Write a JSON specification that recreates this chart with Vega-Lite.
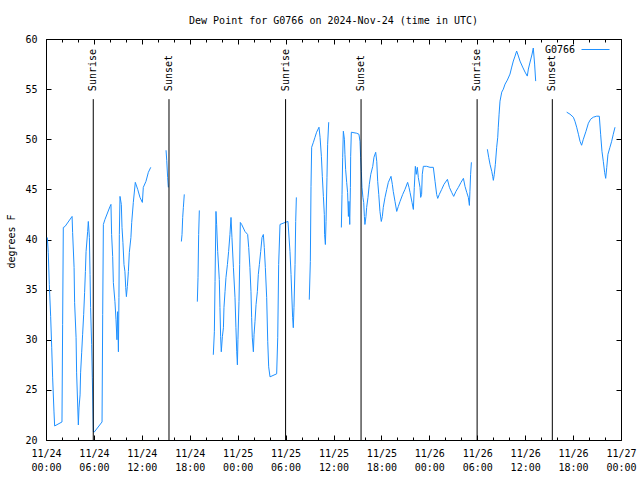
{
"$schema":"https://vega.github.io/schema/vega-lite/v6.json",
"width":575,"height":401,
"autosize":{"type":"none"},
"padding":{"left":46,"top":39,"right":19,"bottom":40},
"title":{"text":"Dew Point for G0766 on 2024-Nov-24 (time in UTC)","anchor":"middle","frame":"group","font":"DejaVu Sans Mono","fontSize":10,"fontWeight":"normal","baseline":"alphabetic","offset":0,"color":"black"},
"datasets":{
"events":[
{"t":"2024-11-24T05:55:00Z","e":"Sunrise"},
{"t":"2024-11-24T15:24:00Z","e":"Sunset"},
{"t":"2024-11-25T06:00:00Z","e":"Sunrise"},
{"t":"2024-11-25T15:27:00Z","e":"Sunset"},
{"t":"2024-11-26T05:59:00Z","e":"Sunrise"},
{"t":"2024-11-26T15:24:00Z","e":"Sunset"}
],
"dew":[
{"t":"2024-11-24T00:10:00Z","v":40.2,"s":1},
{"t":"2024-11-24T00:17:00Z","v":38.7,"s":1},
{"t":"2024-11-24T00:25:00Z","v":35.5,"s":1},
{"t":"2024-11-24T00:35:00Z","v":32.3,"s":1},
{"t":"2024-11-24T00:43:00Z","v":29.2,"s":1},
{"t":"2024-11-24T00:50:00Z","v":26.2,"s":1},
{"t":"2024-11-24T01:00:00Z","v":22.8,"s":1},
{"t":"2024-11-24T01:05:00Z","v":21.4,"s":1},
{"t":"2024-11-24T02:00:00Z","v":21.8,"s":1},
{"t":"2024-11-24T02:05:00Z","v":31.5,"s":1},
{"t":"2024-11-24T02:10:00Z","v":41.2,"s":1},
{"t":"2024-11-24T02:23:00Z","v":41.3,"s":1},
{"t":"2024-11-24T03:16:00Z","v":42.3,"s":1},
{"t":"2024-11-24T03:20:00Z","v":40.7,"s":1},
{"t":"2024-11-24T03:31:00Z","v":37.2,"s":1},
{"t":"2024-11-24T03:35:00Z","v":33.7,"s":1},
{"t":"2024-11-24T03:46:00Z","v":30.2,"s":1},
{"t":"2024-11-24T03:50:00Z","v":26.7,"s":1},
{"t":"2024-11-24T04:03:00Z","v":21.5,"s":1},
{"t":"2024-11-24T04:08:00Z","v":23.2,"s":1},
{"t":"2024-11-24T04:16:00Z","v":24.5,"s":1},
{"t":"2024-11-24T04:20:00Z","v":26.7,"s":1},
{"t":"2024-11-24T04:28:00Z","v":28.7,"s":1},
{"t":"2024-11-24T04:35:00Z","v":30.5,"s":1},
{"t":"2024-11-24T04:43:00Z","v":32.5,"s":1},
{"t":"2024-11-24T04:50:00Z","v":34.7,"s":1},
{"t":"2024-11-24T04:56:00Z","v":36.8,"s":1},
{"t":"2024-11-24T05:01:00Z","v":38.8,"s":1},
{"t":"2024-11-24T05:13:00Z","v":40.8,"s":1},
{"t":"2024-11-24T05:18:00Z","v":41.8,"s":1},
{"t":"2024-11-24T05:26:00Z","v":40.2,"s":1},
{"t":"2024-11-24T05:31:00Z","v":36.5,"s":1},
{"t":"2024-11-24T05:35:00Z","v":33.2,"s":1},
{"t":"2024-11-24T05:43:00Z","v":29.5,"s":1},
{"t":"2024-11-24T05:48:00Z","v":26.2,"s":1},
{"t":"2024-11-24T05:56:00Z","v":20.8,"s":1},
{"t":"2024-11-24T06:03:00Z","v":20.8,"s":1},
{"t":"2024-11-24T07:01:00Z","v":21.8,"s":1},
{"t":"2024-11-24T07:06:00Z","v":32.5,"s":1},
{"t":"2024-11-24T07:11:00Z","v":41.5,"s":1},
{"t":"2024-11-24T07:23:00Z","v":42.0,"s":1},
{"t":"2024-11-24T08:01:00Z","v":43.3,"s":1},
{"t":"2024-11-24T08:08:00Z","v":43.5,"s":1},
{"t":"2024-11-24T08:13:00Z","v":40.5,"s":1},
{"t":"2024-11-24T08:21:00Z","v":38.3,"s":1},
{"t":"2024-11-24T08:26:00Z","v":35.7,"s":1},
{"t":"2024-11-24T08:38:00Z","v":33.8,"s":1},
{"t":"2024-11-24T08:46:00Z","v":32.0,"s":1},
{"t":"2024-11-24T08:53:00Z","v":30.0,"s":1},
{"t":"2024-11-24T08:58:00Z","v":32.8,"s":1},
{"t":"2024-11-24T09:04:00Z","v":28.8,"s":1},
{"t":"2024-11-24T09:08:00Z","v":34.2,"s":1},
{"t":"2024-11-24T09:11:00Z","v":40.5,"s":1},
{"t":"2024-11-24T09:16:00Z","v":44.3,"s":1},
{"t":"2024-11-24T09:26:00Z","v":43.5,"s":1},
{"t":"2024-11-24T09:31:00Z","v":41.2,"s":1},
{"t":"2024-11-24T09:38:00Z","v":39.7,"s":1},
{"t":"2024-11-24T09:46:00Z","v":37.5,"s":1},
{"t":"2024-11-24T09:53:00Z","v":36.8,"s":1},
{"t":"2024-11-24T09:59:00Z","v":35.2,"s":1},
{"t":"2024-11-24T10:04:00Z","v":34.3,"s":1},
{"t":"2024-11-24T10:11:00Z","v":35.3,"s":1},
{"t":"2024-11-24T10:19:00Z","v":36.8,"s":1},
{"t":"2024-11-24T10:26:00Z","v":38.7,"s":1},
{"t":"2024-11-24T10:38:00Z","v":40.2,"s":1},
{"t":"2024-11-24T10:44:00Z","v":41.7,"s":1},
{"t":"2024-11-24T10:56:00Z","v":43.7,"s":1},
{"t":"2024-11-24T11:11:00Z","v":45.7,"s":1},
{"t":"2024-11-24T11:29:00Z","v":45.0,"s":1},
{"t":"2024-11-24T11:46:00Z","v":44.2,"s":1},
{"t":"2024-11-24T12:04:00Z","v":43.7,"s":1},
{"t":"2024-11-24T12:11:00Z","v":45.2,"s":1},
{"t":"2024-11-24T12:31:00Z","v":45.8,"s":1},
{"t":"2024-11-24T12:49:00Z","v":46.7,"s":1},
{"t":"2024-11-24T13:07:00Z","v":47.2,"s":1},
{"t":"2024-11-24T15:02:00Z","v":48.9,"s":2},
{"t":"2024-11-24T15:07:00Z","v":47.9,"s":2},
{"t":"2024-11-24T15:14:00Z","v":46.2,"s":2},
{"t":"2024-11-24T15:19:00Z","v":45.2,"s":2},
{"t":"2024-11-24T16:57:00Z","v":39.8,"s":3},
{"t":"2024-11-24T17:02:00Z","v":40.5,"s":3},
{"t":"2024-11-24T17:07:00Z","v":42.2,"s":3},
{"t":"2024-11-24T17:12:00Z","v":43.2,"s":3},
{"t":"2024-11-24T17:19:00Z","v":44.5,"s":3},
{"t":"2024-11-24T18:57:00Z","v":33.8,"s":4},
{"t":"2024-11-24T19:02:00Z","v":36.2,"s":4},
{"t":"2024-11-24T19:07:00Z","v":40.5,"s":4},
{"t":"2024-11-24T19:12:00Z","v":42.9,"s":4},
{"t":"2024-11-24T20:57:00Z","v":28.5,"s":5},
{"t":"2024-11-24T21:05:00Z","v":30.8,"s":5},
{"t":"2024-11-24T21:10:00Z","v":35.8,"s":5},
{"t":"2024-11-24T21:17:00Z","v":42.8,"s":5},
{"t":"2024-11-24T21:22:00Z","v":41.5,"s":5},
{"t":"2024-11-24T21:30:00Z","v":38.8,"s":5},
{"t":"2024-11-24T21:42:00Z","v":36.0,"s":5},
{"t":"2024-11-24T21:47:00Z","v":33.2,"s":5},
{"t":"2024-11-24T21:52:00Z","v":30.3,"s":5},
{"t":"2024-11-24T21:57:00Z","v":28.8,"s":5},
{"t":"2024-11-24T22:05:00Z","v":30.3,"s":5},
{"t":"2024-11-24T22:13:00Z","v":31.2,"s":5},
{"t":"2024-11-24T22:17:00Z","v":33.2,"s":5},
{"t":"2024-11-24T22:25:00Z","v":34.8,"s":5},
{"t":"2024-11-24T22:32:00Z","v":36.2,"s":5},
{"t":"2024-11-24T22:43:00Z","v":37.5,"s":5},
{"t":"2024-11-24T22:52:00Z","v":38.8,"s":5},
{"t":"2024-11-24T23:02:00Z","v":40.5,"s":5},
{"t":"2024-11-24T23:10:00Z","v":42.2,"s":5},
{"t":"2024-11-24T23:17:00Z","v":40.2,"s":5},
{"t":"2024-11-24T23:28:00Z","v":37.2,"s":5},
{"t":"2024-11-24T23:40:00Z","v":34.2,"s":5},
{"t":"2024-11-24T23:47:00Z","v":31.2,"s":5},
{"t":"2024-11-24T23:53:00Z","v":28.8,"s":5},
{"t":"2024-11-24T23:58:00Z","v":27.5,"s":5},
{"t":"2024-11-25T00:02:00Z","v":30.0,"s":5},
{"t":"2024-11-25T00:10:00Z","v":33.8,"s":5},
{"t":"2024-11-25T00:15:00Z","v":37.5,"s":5},
{"t":"2024-11-25T00:20:00Z","v":41.7,"s":5},
{"t":"2024-11-25T00:30:00Z","v":41.5,"s":5},
{"t":"2024-11-25T00:55:00Z","v":40.8,"s":5},
{"t":"2024-11-25T01:15:00Z","v":40.5,"s":5},
{"t":"2024-11-25T01:23:00Z","v":39.2,"s":5},
{"t":"2024-11-25T01:32:00Z","v":37.2,"s":5},
{"t":"2024-11-25T01:40:00Z","v":34.8,"s":5},
{"t":"2024-11-25T01:45:00Z","v":32.2,"s":5},
{"t":"2024-11-25T01:50:00Z","v":30.2,"s":5},
{"t":"2024-11-25T01:58:00Z","v":28.8,"s":5},
{"t":"2024-11-25T02:03:00Z","v":30.5,"s":5},
{"t":"2024-11-25T02:10:00Z","v":31.8,"s":5},
{"t":"2024-11-25T02:18:00Z","v":33.5,"s":5},
{"t":"2024-11-25T02:28:00Z","v":34.8,"s":5},
{"t":"2024-11-25T02:35:00Z","v":36.5,"s":5},
{"t":"2024-11-25T02:43:00Z","v":37.5,"s":5},
{"t":"2024-11-25T02:53:00Z","v":38.8,"s":5},
{"t":"2024-11-25T03:03:00Z","v":40.2,"s":5},
{"t":"2024-11-25T03:13:00Z","v":40.5,"s":5},
{"t":"2024-11-25T03:20:00Z","v":39.2,"s":5},
{"t":"2024-11-25T03:28:00Z","v":37.2,"s":5},
{"t":"2024-11-25T03:38:00Z","v":34.2,"s":5},
{"t":"2024-11-25T03:46:00Z","v":29.8,"s":5},
{"t":"2024-11-25T03:53:00Z","v":27.3,"s":5},
{"t":"2024-11-25T04:03:00Z","v":26.3,"s":5},
{"t":"2024-11-25T04:53:00Z","v":26.6,"s":5},
{"t":"2024-11-25T05:01:00Z","v":30.2,"s":5},
{"t":"2024-11-25T05:08:00Z","v":37.5,"s":5},
{"t":"2024-11-25T05:18:00Z","v":41.5,"s":5},
{"t":"2024-11-25T05:56:00Z","v":41.7,"s":5},
{"t":"2024-11-25T06:18:00Z","v":41.8,"s":5},
{"t":"2024-11-25T06:33:00Z","v":38.8,"s":5},
{"t":"2024-11-25T06:41:00Z","v":36.5,"s":5},
{"t":"2024-11-25T06:53:00Z","v":32.2,"s":5},
{"t":"2024-11-25T06:58:00Z","v":31.2,"s":5},
{"t":"2024-11-25T07:03:00Z","v":33.2,"s":5},
{"t":"2024-11-25T07:11:00Z","v":37.5,"s":5},
{"t":"2024-11-25T07:16:00Z","v":41.8,"s":5},
{"t":"2024-11-25T07:21:00Z","v":44.2,"s":5},
{"t":"2024-11-25T08:58:00Z","v":34.0,"s":6},
{"t":"2024-11-25T09:06:00Z","v":37.8,"s":6},
{"t":"2024-11-25T09:11:00Z","v":45.3,"s":6},
{"t":"2024-11-25T09:16:00Z","v":49.2,"s":6},
{"t":"2024-11-25T09:29:00Z","v":49.7,"s":6},
{"t":"2024-11-25T09:41:00Z","v":50.2,"s":6},
{"t":"2024-11-25T09:53:00Z","v":50.7,"s":6},
{"t":"2024-11-25T10:11:00Z","v":51.2,"s":6},
{"t":"2024-11-25T10:19:00Z","v":50.2,"s":6},
{"t":"2024-11-25T10:29:00Z","v":48.3,"s":6},
{"t":"2024-11-25T10:36:00Z","v":46.3,"s":6},
{"t":"2024-11-25T10:44:00Z","v":44.3,"s":6},
{"t":"2024-11-25T10:51:00Z","v":42.5,"s":6},
{"t":"2024-11-25T10:53:00Z","v":40.5,"s":6},
{"t":"2024-11-25T10:59:00Z","v":39.5,"s":6},
{"t":"2024-11-25T11:04:00Z","v":41.8,"s":6},
{"t":"2024-11-25T11:11:00Z","v":46.2,"s":6},
{"t":"2024-11-25T11:16:00Z","v":49.5,"s":6},
{"t":"2024-11-25T11:24:00Z","v":51.7,"s":6},
{"t":"2024-11-25T12:59:00Z","v":41.2,"s":7},
{"t":"2024-11-25T13:04:00Z","v":44.5,"s":7},
{"t":"2024-11-25T13:09:00Z","v":48.2,"s":7},
{"t":"2024-11-25T13:14:00Z","v":50.8,"s":7},
{"t":"2024-11-25T13:22:00Z","v":50.0,"s":7},
{"t":"2024-11-25T13:26:00Z","v":48.5,"s":7},
{"t":"2024-11-25T13:31:00Z","v":47.0,"s":7},
{"t":"2024-11-25T13:39:00Z","v":45.7,"s":7},
{"t":"2024-11-25T13:46:00Z","v":44.7,"s":7},
{"t":"2024-11-25T13:52:00Z","v":42.3,"s":7},
{"t":"2024-11-25T13:56:00Z","v":43.8,"s":7},
{"t":"2024-11-25T14:02:00Z","v":41.5,"s":7},
{"t":"2024-11-25T14:07:00Z","v":45.2,"s":7},
{"t":"2024-11-25T14:09:00Z","v":48.3,"s":7},
{"t":"2024-11-25T14:14:00Z","v":50.7,"s":7},
{"t":"2024-11-25T14:54:00Z","v":50.6,"s":7},
{"t":"2024-11-25T15:11:00Z","v":50.5,"s":7},
{"t":"2024-11-25T15:19:00Z","v":49.8,"s":7},
{"t":"2024-11-25T15:24:00Z","v":48.2,"s":7},
{"t":"2024-11-25T15:29:00Z","v":46.8,"s":7},
{"t":"2024-11-25T15:34:00Z","v":45.2,"s":7},
{"t":"2024-11-25T15:41:00Z","v":44.2,"s":7},
{"t":"2024-11-25T15:47:00Z","v":43.7,"s":7},
{"t":"2024-11-25T15:52:00Z","v":42.3,"s":7},
{"t":"2024-11-25T15:56:00Z","v":41.5,"s":7},
{"t":"2024-11-25T16:04:00Z","v":42.3,"s":7},
{"t":"2024-11-25T16:09:00Z","v":43.2,"s":7},
{"t":"2024-11-25T16:19:00Z","v":44.2,"s":7},
{"t":"2024-11-25T16:29:00Z","v":45.5,"s":7},
{"t":"2024-11-25T16:40:00Z","v":46.5,"s":7},
{"t":"2024-11-25T16:55:00Z","v":47.3,"s":7},
{"t":"2024-11-25T17:04:00Z","v":48.2,"s":7},
{"t":"2024-11-25T17:17:00Z","v":48.7,"s":7},
{"t":"2024-11-25T17:25:00Z","v":47.8,"s":7},
{"t":"2024-11-25T17:32:00Z","v":45.8,"s":7},
{"t":"2024-11-25T17:40:00Z","v":44.5,"s":7},
{"t":"2024-11-25T17:49:00Z","v":42.8,"s":7},
{"t":"2024-11-25T17:59:00Z","v":41.8,"s":7},
{"t":"2024-11-25T18:07:00Z","v":42.3,"s":7},
{"t":"2024-11-25T18:14:00Z","v":43.2,"s":7},
{"t":"2024-11-25T18:27:00Z","v":44.2,"s":7},
{"t":"2024-11-25T18:40:00Z","v":45.0,"s":7},
{"t":"2024-11-25T18:52:00Z","v":45.7,"s":7},
{"t":"2024-11-25T19:12:00Z","v":46.3,"s":7},
{"t":"2024-11-25T19:22:00Z","v":45.5,"s":7},
{"t":"2024-11-25T19:29:00Z","v":44.8,"s":7},
{"t":"2024-11-25T19:42:00Z","v":43.8,"s":7},
{"t":"2024-11-25T19:55:00Z","v":42.8,"s":7},
{"t":"2024-11-25T20:07:00Z","v":43.3,"s":7},
{"t":"2024-11-25T20:20:00Z","v":43.8,"s":7},
{"t":"2024-11-25T20:40:00Z","v":44.5,"s":7},
{"t":"2024-11-25T20:57:00Z","v":45.0,"s":7},
{"t":"2024-11-25T21:17:00Z","v":45.7,"s":7},
{"t":"2024-11-25T21:27:00Z","v":45.2,"s":7},
{"t":"2024-11-25T21:35:00Z","v":44.7,"s":7},
{"t":"2024-11-25T21:50:00Z","v":43.7,"s":7},
{"t":"2024-11-25T22:00:00Z","v":43.0,"s":7},
{"t":"2024-11-25T22:07:00Z","v":45.2,"s":7},
{"t":"2024-11-25T22:15:00Z","v":47.3,"s":7},
{"t":"2024-11-25T22:22:00Z","v":46.5,"s":7},
{"t":"2024-11-25T22:30:00Z","v":47.2,"s":7},
{"t":"2024-11-25T22:37:00Z","v":46.2,"s":7},
{"t":"2024-11-25T22:50:00Z","v":45.2,"s":7},
{"t":"2024-11-25T22:55:00Z","v":44.2,"s":7},
{"t":"2024-11-25T23:02:00Z","v":44.5,"s":7},
{"t":"2024-11-25T23:07:00Z","v":46.5,"s":7},
{"t":"2024-11-25T23:15:00Z","v":47.3,"s":7},
{"t":"2024-11-25T23:40:00Z","v":47.3,"s":7},
{"t":"2024-11-26T00:05:00Z","v":47.2,"s":7},
{"t":"2024-11-26T00:30:00Z","v":47.2,"s":7},
{"t":"2024-11-26T00:43:00Z","v":45.8,"s":7},
{"t":"2024-11-26T00:55:00Z","v":44.5,"s":7},
{"t":"2024-11-26T01:03:00Z","v":44.1,"s":7},
{"t":"2024-11-26T01:15:00Z","v":44.5,"s":7},
{"t":"2024-11-26T01:33:00Z","v":45.0,"s":7},
{"t":"2024-11-26T01:50:00Z","v":45.5,"s":7},
{"t":"2024-11-26T02:16:00Z","v":46.0,"s":7},
{"t":"2024-11-26T02:31:00Z","v":45.2,"s":7},
{"t":"2024-11-26T02:48:00Z","v":44.7,"s":7},
{"t":"2024-11-26T03:03:00Z","v":44.3,"s":7},
{"t":"2024-11-26T03:20:00Z","v":44.8,"s":7},
{"t":"2024-11-26T03:38:00Z","v":45.2,"s":7},
{"t":"2024-11-26T03:58:00Z","v":45.7,"s":7},
{"t":"2024-11-26T04:16:00Z","v":46.1,"s":7},
{"t":"2024-11-26T04:28:00Z","v":45.3,"s":7},
{"t":"2024-11-26T04:41:00Z","v":44.7,"s":7},
{"t":"2024-11-26T04:53:00Z","v":44.2,"s":7},
{"t":"2024-11-26T05:01:00Z","v":43.4,"s":7},
{"t":"2024-11-26T05:05:00Z","v":44.8,"s":7},
{"t":"2024-11-26T05:10:00Z","v":46.5,"s":7},
{"t":"2024-11-26T05:16:00Z","v":47.7,"s":7},
{"t":"2024-11-26T07:16:00Z","v":49.0,"s":8},
{"t":"2024-11-26T07:26:00Z","v":48.2,"s":8},
{"t":"2024-11-26T07:36:00Z","v":47.5,"s":8},
{"t":"2024-11-26T07:49:00Z","v":46.8,"s":8},
{"t":"2024-11-26T07:56:00Z","v":46.3,"s":8},
{"t":"2024-11-26T08:01:00Z","v":45.9,"s":8},
{"t":"2024-11-26T08:08:00Z","v":46.5,"s":8},
{"t":"2024-11-26T08:16:00Z","v":47.5,"s":8},
{"t":"2024-11-26T08:26:00Z","v":49.2,"s":8},
{"t":"2024-11-26T08:34:00Z","v":50.2,"s":8},
{"t":"2024-11-26T08:38:00Z","v":51.2,"s":8},
{"t":"2024-11-26T08:44:00Z","v":52.5,"s":8},
{"t":"2024-11-26T08:51:00Z","v":53.8,"s":8},
{"t":"2024-11-26T09:04:00Z","v":54.7,"s":8},
{"t":"2024-11-26T09:16:00Z","v":55.0,"s":8},
{"t":"2024-11-26T09:29:00Z","v":55.5,"s":8},
{"t":"2024-11-26T09:46:00Z","v":55.9,"s":8},
{"t":"2024-11-26T10:06:00Z","v":56.5,"s":8},
{"t":"2024-11-26T10:19:00Z","v":57.2,"s":8},
{"t":"2024-11-26T10:31:00Z","v":57.8,"s":8},
{"t":"2024-11-26T10:44:00Z","v":58.3,"s":8},
{"t":"2024-11-26T10:56:00Z","v":58.8,"s":8},
{"t":"2024-11-26T11:09:00Z","v":58.3,"s":8},
{"t":"2024-11-26T11:21:00Z","v":57.8,"s":8},
{"t":"2024-11-26T11:41:00Z","v":57.2,"s":8},
{"t":"2024-11-26T11:59:00Z","v":56.7,"s":8},
{"t":"2024-11-26T12:16:00Z","v":56.3,"s":8},
{"t":"2024-11-26T12:24:00Z","v":57.0,"s":8},
{"t":"2024-11-26T12:37:00Z","v":57.7,"s":8},
{"t":"2024-11-26T12:52:00Z","v":58.5,"s":8},
{"t":"2024-11-26T13:01:00Z","v":59.1,"s":8},
{"t":"2024-11-26T13:11:00Z","v":57.5,"s":8},
{"t":"2024-11-26T13:19:00Z","v":55.8,"s":8},
{"t":"2024-11-26T17:12:00Z","v":52.7,"s":9},
{"t":"2024-11-26T17:37:00Z","v":52.5,"s":9},
{"t":"2024-11-26T18:02:00Z","v":52.2,"s":9},
{"t":"2024-11-26T18:14:00Z","v":51.8,"s":9},
{"t":"2024-11-26T18:27:00Z","v":51.2,"s":9},
{"t":"2024-11-26T18:40:00Z","v":50.5,"s":9},
{"t":"2024-11-26T18:52:00Z","v":49.8,"s":9},
{"t":"2024-11-26T19:04:00Z","v":49.4,"s":9},
{"t":"2024-11-26T19:17:00Z","v":50.0,"s":9},
{"t":"2024-11-26T19:37:00Z","v":50.8,"s":9},
{"t":"2024-11-26T19:55:00Z","v":51.6,"s":9},
{"t":"2024-11-26T20:12:00Z","v":52.0,"s":9},
{"t":"2024-11-26T20:32:00Z","v":52.2,"s":9},
{"t":"2024-11-26T20:57:00Z","v":52.3,"s":9},
{"t":"2024-11-26T21:17:00Z","v":52.3,"s":9},
{"t":"2024-11-26T21:27:00Z","v":50.5,"s":9},
{"t":"2024-11-26T21:37:00Z","v":48.8,"s":9},
{"t":"2024-11-26T21:47:00Z","v":47.8,"s":9},
{"t":"2024-11-26T21:57:00Z","v":46.7,"s":9},
{"t":"2024-11-26T22:05:00Z","v":46.1,"s":9},
{"t":"2024-11-26T22:13:00Z","v":47.2,"s":9},
{"t":"2024-11-26T22:22:00Z","v":48.5,"s":9},
{"t":"2024-11-26T22:37:00Z","v":49.2,"s":9},
{"t":"2024-11-26T22:50:00Z","v":49.8,"s":9},
{"t":"2024-11-26T23:02:00Z","v":50.5,"s":9},
{"t":"2024-11-26T23:15:00Z","v":51.2,"s":9}
]
},
"layer":[
{
"data":{"name":"dew"},
"mark":{"type":"line","strokeWidth":1},
"encoding":{
"x":{"field":"t","type":"temporal","scale":{"type":"utc","domain":[1732406400000,1732665600000]},
"axis":{"orient":"top","values":[1732406400000,1732428000000,1732449600000,1732471200000,1732492800000,1732514400000,1732536000000,1732557600000,1732579200000,1732600800000,1732622400000,1732644000000,1732665600000],"tickSize":-5,"tickColor":"black","labels":false,"domain":false,"grid":false,"title":null}},
"y":{"field":"v","type":"quantitative","scale":{"domain":[20,60],"nice":false,"zero":false},
"axis":{"orient":"right","values":[20,25,30,35,40,45,50,55,60],"tickSize":-5,"tickColor":"black","labels":false,"domain":false,"grid":false,"title":null}},
"detail":{"field":"s","type":"nominal"},
"color":{"datum":"G0766","type":"nominal","scale":{"range":["#1e90ff"]},
"legend":{"orient":"none","legendX":535,"legendY":-4,"symbolType":"stroke","symbolSize":784,"symbolStrokeWidth":1,"labelAlign":"right","labelOffset":-35,"labelFont":"DejaVu Sans Mono","labelFontSize":10,"labelColor":"black","padding":0,"title":null}}
}
},
{
"data":{"name":"events"},
"mark":{"type":"rule","color":"black","strokeWidth":1},
"encoding":{
"x":{"field":"t","type":"temporal",
"axis":{"orient":"bottom","values":[1732406400000,1732428000000,1732449600000,1732471200000,1732492800000,1732514400000,1732536000000,1732557600000,1732579200000,1732600800000,1732622400000,1732644000000,1732665600000],"tickSize":-5,"tickColor":"black","domain":false,"grid":false,"title":null,
"labelExpr":"[utcFormat(datum.value,'%m/%d'), utcFormat(datum.value,'%H:%M')]",
"labelOverlap":false,"labelFlush":false,"labelBound":false,"labelFont":"DejaVu Sans Mono","labelFontSize":10,"labelColor":"black","labelLineHeight":14,"labelPadding":13}},
"y":{"datum":54,"type":"quantitative",
"axis":{"orient":"left","values":[20,25,30,35,40,45,50,55,60],"tickSize":-5,"tickColor":"black","domain":false,"grid":false,"labelFont":"DejaVu Sans Mono","labelFontSize":10,"labelColor":"black","labelPadding":14,
"title":"degrees F","titleFont":"DejaVu Sans Mono","titleFontSize":10,"titleFontWeight":"normal","titleColor":"black","titleAngle":270,"titleAlign":"center","titleBaseline":"middle","titleX":-35,"titleY":202}},
"y2":{"datum":20}
}
},
{
"data":{"name":"events"},
"transform":[{"filter":"datum.e == 'Sunrise'"}],
"mark":{"type":"text","angle":270,"align":"left","baseline":"middle","font":"DejaVu Sans Mono","fontSize":10,"color":"black"},
"encoding":{
"x":{"field":"t","type":"temporal","axis":{"orient":"bottom","values":[1732406400000,1732413600000,1732420800000,1732428000000,1732435200000,1732442400000,1732449600000,1732456800000,1732464000000,1732471200000,1732478400000,1732485600000,1732492800000,1732500000000,1732507200000,1732514400000,1732521600000,1732528800000,1732536000000,1732543200000,1732550400000,1732557600000,1732564800000,1732572000000,1732579200000,1732586400000,1732593600000,1732600800000,1732608000000,1732615200000,1732622400000,1732629600000,1732636800000,1732644000000,1732651200000,1732658400000,1732665600000],"tickSize":-3,"tickColor":"black","labels":false,"domain":false,"grid":false,"title":null}},
"y":{"datum":54.8,"type":"quantitative","axis":null},
"text":{"field":"e","type":"nominal"}
}
},
{
"data":{"name":"events"},
"transform":[{"filter":"datum.e == 'Sunset'"}],
"mark":{"type":"text","angle":270,"align":"left","baseline":"middle","font":"DejaVu Sans Mono","fontSize":10,"color":"black"},
"encoding":{
"x":{"field":"t","type":"temporal","axis":{"orient":"top","values":[1732406400000,1732413600000,1732420800000,1732428000000,1732435200000,1732442400000,1732449600000,1732456800000,1732464000000,1732471200000,1732478400000,1732485600000,1732492800000,1732500000000,1732507200000,1732514400000,1732521600000,1732528800000,1732536000000,1732543200000,1732550400000,1732557600000,1732564800000,1732572000000,1732579200000,1732586400000,1732593600000,1732600800000,1732608000000,1732615200000,1732622400000,1732629600000,1732636800000,1732644000000,1732651200000,1732658400000,1732665600000],"tickSize":-3,"tickColor":"black","labels":false,"domain":false,"grid":false,"title":null}},
"y":{"datum":54.8,"type":"quantitative","axis":null},
"text":{"field":"e","type":"nominal"}
}
}
],
"resolve":{"axis":{"x":"independent","y":"independent"}},
"config":{"font":"DejaVu Sans Mono","view":{"stroke":"black","strokeWidth":1}}
}
